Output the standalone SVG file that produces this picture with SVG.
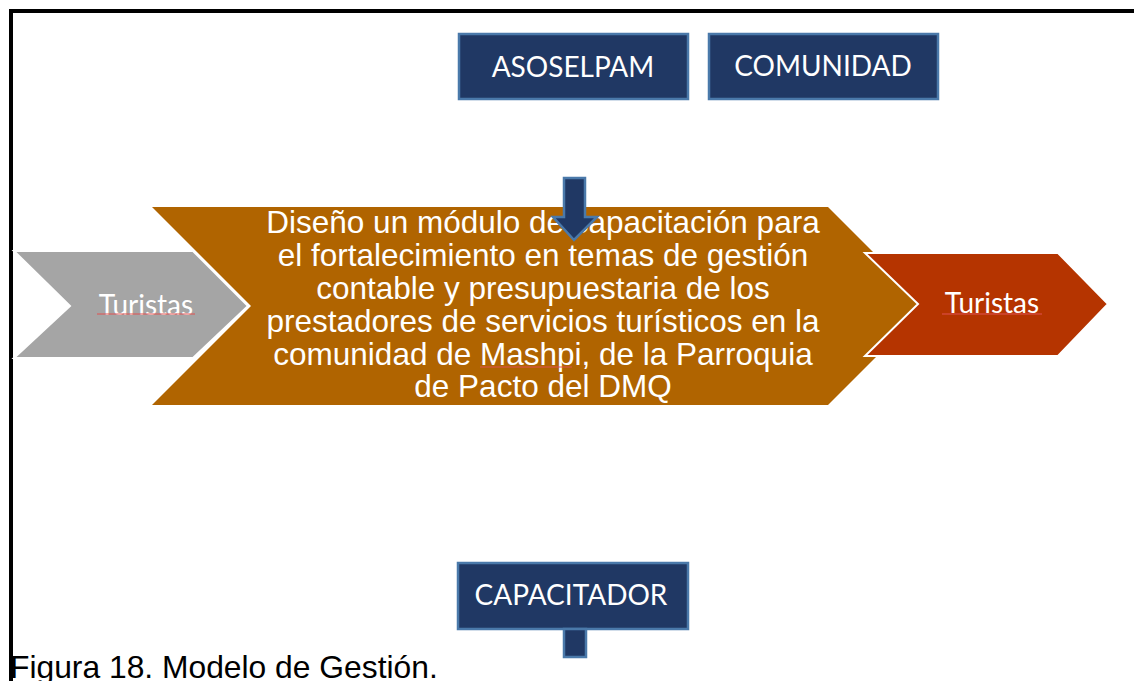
<svg xmlns="http://www.w3.org/2000/svg" width="1134" height="681" viewBox="0 0 1134 681">
<style>
.box{fill:#203864;stroke:#4a79aa;stroke-width:2.5}
.bt{font-family:Lato,"Open Sans",sans-serif;font-size:28px;fill:#fff;text-anchor:middle}
.chev{stroke:#fff;stroke-width:2}
.mt{font-family:"Liberation Sans",Arial,sans-serif;font-size:31.5px;fill:#fff;text-anchor:middle}
.sq{stroke:#e05050;stroke-width:1}
</style>
<rect width="1134" height="681" fill="#fff"/>
<path d="M11 681 V11 H1134" fill="none" stroke="#000" stroke-width="4"/>
<g id="proceso">
<polygon points="152,207 828,207 927,306 828,405 152,405 251,306" fill="#b06400"/>
<text class="mt"><tspan x="543" y="233">Diseño un módulo de capacitación para</tspan><tspan x="543" y="266">el fortalecimiento en temas de gestión</tspan><tspan x="543" y="299">contable y presupuestaria de los</tspan><tspan x="543" y="332">prestadores de servicios turísticos en la</tspan><tspan x="543" y="365">comunidad de Mashpi, de la Parroquia</tspan><tspan x="543" y="397">de Pacto del DMQ</tspan></text>
<line class="sq" x1="480" y1="367" x2="572" y2="367"/>
</g>
<g id="turistas-entrada">
<polygon class="chev" points="14,251 193,251 248,306 193,358 14,358 70,306" fill="#a5a5a5"/>
<text class="bt" x="146" y="315" font-size="27">Turistas</text>
<line class="sq" x1="97" y1="314" x2="195" y2="314"/>
</g>
<g id="turistas-salida">
<polygon class="chev" points="865,253 1058,253 1108,304 1058,356 865,356 918,304" fill="#b53400"/>
<text class="bt" x="992" y="313" font-size="27">Turistas</text>
<line class="sq" x1="942" y1="314" x2="1042" y2="314"/>
</g>
<g id="asoselpam">
<rect class="box" x="459" y="34" width="229" height="65"/>
<text class="bt" x="573" y="77">ASOSELPAM</text>
</g>
<g id="comunidad">
<rect class="box" x="709" y="34" width="229" height="65"/>
<text class="bt" x="823" y="76">COMUNIDAD</text>
</g>
<g id="capacitador">
<rect class="box" x="458" y="563" width="230" height="66"/>
<text class="bt" x="571" y="605">CAPACITADOR</text>
</g>
<g id="connectors">
<polygon class="box" points="564,178 585,178 585,217 597,217 574,240 553,217 564,217" stroke-width="2"/>
<rect class="box" x="564" y="629" width="22" height="28" stroke-width="2"/>
</g>
<text x="10" y="678" font-family="Liberation Sans,Arial,sans-serif" font-size="31.8" fill="#000">Figura 18. Modelo de Gestión.</text>
</svg>
